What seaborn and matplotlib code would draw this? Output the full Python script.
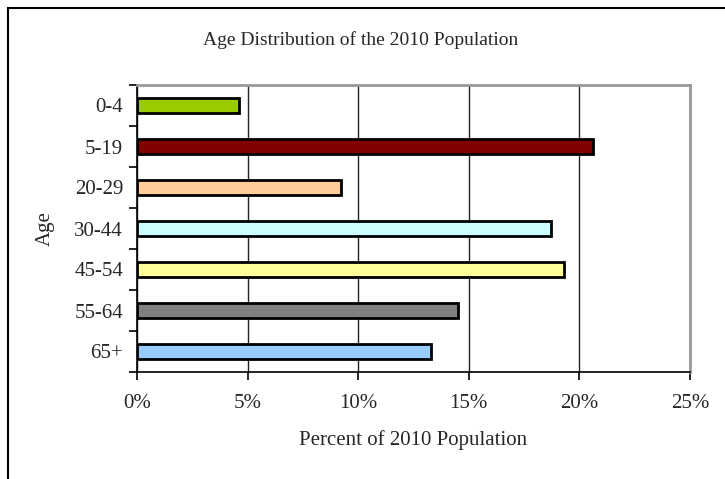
import matplotlib
matplotlib.use("Agg")
import matplotlib.pyplot as plt
import seaborn as sns
import pandas as pd
from matplotlib.patches import Rectangle
from matplotlib.ticker import FuncFormatter, FixedLocator

# Age groups and their share of the 2010 population (percent)
age_groups = ["0-4", "5-19", "20-29", "30-44", "45-54", "55-64", "65+"]
percent = [4.6, 20.6, 9.2, 18.7, 19.3, 14.5, 13.3]
bar_colors = ["#99CC00", "#800000", "#FFCC99", "#CCFFFF", "#FFFF99", "#808080", "#99CCFF"]
x_ticks = [0, 5, 10, 15, 20, 25]

df = pd.DataFrame({"Age": age_groups, "Percent": percent})

sns.set_theme(style="white")
plt.rcParams["font.family"] = ["Liberation Serif", "DejaVu Serif"]

fig = plt.figure(figsize=(7.25, 4.79), dpi=100)
ax = fig.add_axes([137 / 725, 1 - 372 / 479, (690 - 137) / 725, (372 - 85) / 479])

sns.barplot(data=df, x="Percent", y="Age", hue="Age", palette=bar_colors,
            order=age_groups, hue_order=age_groups, legend=False, saturation=1,
            width=0.39, edgecolor="black", linewidth=2, orient="h", ax=ax, zorder=3)

ax.set_xlim(0, 25)
ax.set_ylim(6.5, -0.5)
ax.xaxis.set_major_locator(FixedLocator(x_ticks))
ax.xaxis.set_major_formatter(FuncFormatter(lambda v, p: f"{v:.0f}%"))
ax.grid(axis="x", color="#222222", linewidth=1, zorder=0)
ax.grid(axis="y", visible=False)

# Category tick marks sit on the band boundaries
ax.yaxis.set_minor_locator(FixedLocator([i - 0.5 for i in range(len(age_groups) + 1)]))
ax.tick_params(axis="y", which="major", length=0, pad=10, labelsize=15)
ax.tick_params(axis="y", which="minor", left=True, length=6, width=1.2, color="black")
ax.tick_params(axis="x", which="major", bottom=True, length=6, width=1.2, color="black",
               pad=10, labelsize=15)

for side in ("top", "right"):
    ax.spines[side].set_color("#999999")
    ax.spines[side].set_linewidth(2)
for side in ("left", "bottom"):
    ax.spines[side].set_color("black")
    ax.spines[side].set_linewidth(1.2)

ax.set_xlabel("Percent of 2010 Population", fontsize=15, labelpad=12)
ax.set_ylabel("Age", fontsize=15, labelpad=14)
fig.text(0.497, 1 - 40 / 479, "Age Distribution of the 2010 Population",
         ha="center", va="center", fontsize=14)

# Outer chart frame
fig.add_artist(Rectangle((7.5 / 725, -0.2), 1.2, 1.2 - 7.5 / 479,
                         transform=fig.transFigure, fill=False,
                         edgecolor="black", linewidth=1.5))

fig.savefig("out.png", dpi=100)
